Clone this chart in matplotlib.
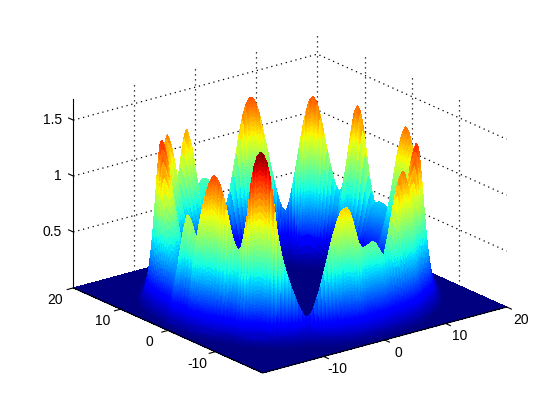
import matplotlib
matplotlib.use('Agg')
import matplotlib.pyplot as plt
from mpl_toolkits.mplot3d import proj3d
import numpy as np

# heights read along the ridge, one every 1.5 degrees from -180
ridge_angle = np.arange(-180, 180, 1.5)
ridge_height = [.99, .96, .89, .79, .76, .90, 1.03, 1.15, 1.25, 1.33,
                1.39, 1.42, 1.40, 1.35, 1.27, 1.17, 1.03, .92, .84, .79,
                .82, .94, 1.12, 1.38, 1.55, 1.65, 1.69, 1.67, 1.60, 1.47,
                1.25, 1.00, .83, .70, .60, .51, .43, .35, .29, .24,
                .22, .25, .31, .40, .50, .62, .74, .86, .97, 1.06,
                1.13, 1.16, 1.17, 1.13, 1.05, .94, .84, .79, .78, .79,
                .80, .81, .80, .76, .71, .67, .65, .68, .74, .83,
                .93, 1.04, 1.15, 1.24, 1.31, 1.33, 1.30, 1.24, 1.17, 1.09,
                1.04, 1.03, 1.07, 1.17, 1.30, 1.42, 1.47, 1.45, 1.38, 1.30,
                1.22, 1.14, 1.07, 1.01, .96, .92, .89, .87, .85, .85,
                .85, .86, .88, .90, .94, .99, 1.05, 1.11, 1.17, 1.23,
                1.28, 1.32, 1.34, 1.34, 1.30, 1.22, 1.10, .97, .83, .70,
                .59, .54, .53, .54, .55, .56, .56, .54, .54, .64,
                .78, .98, 1.19, 1.33, 1.37, 1.30, 1.12, .91, .73, .61,
                .57, .62, .71, .83, .97, 1.12, 1.26, 1.36, 1.40, 1.37,
                1.27, 1.13, .96, .77, .60, .45, .37, .39, .47, .58,
                .71, .85, .99, 1.13, 1.26, 1.35, 1.40, 1.40, 1.35, 1.25,
                1.11, .94, .77, .60, .49, .49, .52, .56, .61, .66,
                .70, .74, .76, .76, .74, .70, .72, .86, 1.02, 1.18,
                1.26, 1.20, 1.08, .95, .83, .74, .70, .72, .82, .97,
                1.13, 1.26, 1.32, 1.29, 1.19, 1.07, .95, .84, .74, .67,
                .62, .60, .61, .67, .77, .88, 1.01, 1.15, 1.28, 1.39,
                1.46, 1.47, 1.41, 1.31, 1.18, 1.05, .94, .84, .76, .69,
                .63, .58, .53, .50, .47, .46, .52, .66, .79, .90]

# share of the ridge height at each radius, across the ring
radius = np.r_[np.arange(9, 13, .5), np.arange(13, 16.75, .1),
               np.arange(16.8, 18.98, .05), np.arange(19, 20.1, .2)]
profile = [0, .003, .006, .013, .025, .045, .075, .12,
           .180, .192, .205, .219, .234, .250, .267, .284, .302, .321,
           .340, .360, .381, .402, .424, .447, .471, .495, .520, .545,
           .570, .598, .627, .657, .687, .717, .747, .777, .807, .836,
           .865, .890, .913, .934, .952, .967, .979, .990,
           1.0, .997, .992, .985, .975, .960, .940, .918, .893, .865,
           .835, .803, .770, .735, .700, .665, .630, .597, .565, .533,
           .502, .472, .443, .416, .390, .365, .341, .318, .296, .276,
           .257, .239, .222, .206, .191, .176, .162, .149, .137, .126,
           .115, .105, .096, .088,
           .08, .05, .03, .016, .006, 0]

x_ticks = [-10, 0, 10, 20]
y_ticks = [-10, 0, 10, 20]
z_ticks = [0.5, 1, 1.5]
z_labels = ['0.5', '1', '1.5']
lim = 20
z_top = 1.69

plt.rcParams['font.family'] = ['Liberation Sans', 'DejaVu Sans']

fig = plt.figure(figsize=(5.6, 4.2), dpi=100)
ax = fig.add_axes([2.44 / 560, -70.5 / 420, 1, 560 / 420], projection='3d',
                  computed_zorder=False, proj_type='ortho')
ax.set_box_aspect((1, 1, .653), zoom=.834)
ax.view_init(elev=20.4, azim=-127.8)
ax.set_xlim(-lim, lim)
ax.set_ylim(-lim, lim)
ax.set_zlim(0, z_top)
ax.set_axis_off()


def label(x, y, z, s, ha='center'):
    # plain 2d text at the projected spot
    xp, yp, _ = proj3d.proj_transform(x, y, z, ax.get_proj())
    ax.text2D(xp, yp, s, fontsize=10, ha=ha, va='center', transform=ax.transData)


dots = dict(color='k', lw=.9, ls=(0, (1, 3)), zorder=1)
for z in z_ticks:
    ax.plot([-lim, lim, lim], [lim, lim, -lim], [z, z, z], **dots)
for t in x_ticks:
    ax.plot([t, t], [lim, lim], [0, z_top], **dots)
for t in y_ticks[:-1]:
    ax.plot([lim, lim], [t, t], [0, z_top], **dots)

# floor, then the ring on top
fx, fy = np.meshgrid([-lim, lim], [-lim, lim])
ax.plot_surface(fx, fy, np.zeros_like(fx, dtype=float), cmap='jet', vmin=0, vmax=z_top,
                shade=False, linewidth=0, antialiased=False, zorder=2)

ang = np.radians(np.r_[ridge_angle, 180])
h = np.r_[ridge_height, ridge_height[0]]
A, R = np.meshgrid(ang, radius)
Z = np.outer(profile, h)
ax.plot_surface(R * np.cos(A), R * np.sin(A), Z, rstride=1, cstride=1, cmap='jet',
                vmin=0, vmax=z_top, shade=False, linewidth=0, antialiased=False, zorder=3)

# box edges and ticks
edge = dict(color='k', lw=.8, zorder=4)
ax.plot([-lim, -lim, lim], [lim, -lim, -lim], [0, 0, 0], **edge)
ax.plot([-lim, -lim], [lim, lim], [0, z_top], **edge)
for t in x_ticks:
    ax.plot([t, t], [-lim, -lim - 1], [0, 0], **edge)
    label(t - 1.5, -lim - 4.9, 0, str(t))
for t in y_ticks:
    ax.plot([-lim, -lim - 1], [t, t], [0, 0], **edge)
    label(-lim - 4.6, t - 2.1, 0, str(t))
for z, lab in zip(z_ticks, z_labels):
    ax.plot([-lim, -lim], [lim, lim + 1], [z, z], **edge)
    label(-lim - 1.2, lim + .9, z, lab, ha='right')

fig.savefig('out.png', dpi=100)
